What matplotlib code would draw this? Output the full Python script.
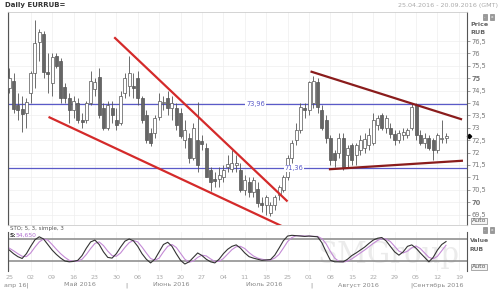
import numpy as np
import matplotlib.pyplot as plt
from matplotlib.ticker import FixedLocator

# daily EURRUB candles, 25.04.2016 .. mid Sep 2016
opens = [74.6, 74.9, 73.9, 73.75, 73.6, 74.4, 75.2, 76.45, 76.8, 75.25,
         74.8, 75.9, 75.7, 74.65, 74.2, 73.7, 74.0, 73.3, 73.3, 74.0,
         74.55, 75.05, 73.8, 73.0, 73.8, 73.3, 73.2, 74.4, 74.7, 74.7,
         75.0, 74.2, 73.5, 72.8, 72.8, 73.45, 74.0, 74.2, 73.8, 73.8,
         73.6, 72.5, 72.6, 71.8, 72.5, 72.45, 72.2, 71.3, 70.95, 70.95,
         71.0, 71.4, 71.35, 71.5, 71.3, 70.5, 70.8, 70.4, 70.55, 69.95,
         69.9, 69.55, 69.9, 70.3, 70.5, 71.0, 71.8, 72.5, 72.9, 73.8,
         73.7, 74.0, 74.85, 73.7, 73.3, 72.6, 72.0, 72.0, 72.6, 71.9,
         72.3, 71.9, 72.1, 72.2, 72.3, 72.4, 73.1, 73.5, 73.0, 73.0,
         72.75, 72.5, 72.7, 72.7, 73.0, 73.9, 72.7, 72.4, 72.6, 72.5,
         72.1, 72.55, 72.6]
highs = [75.4, 75.2, 74.4, 74.3, 74.2, 75.3, 77.35, 77.0, 76.9, 76.0,
         76.0, 76.0, 75.8, 74.8, 74.4, 74.3, 74.2, 73.6, 74.1, 75.3,
         75.0, 75.4, 74.0, 74.1, 74.1, 73.8, 74.5, 75.2, 75.9, 75.2,
         75.3, 74.3, 73.7, 73.0, 73.5, 74.4, 74.3, 74.5, 74.3, 74.0,
         73.8, 73.3, 72.8, 73.2, 74.05, 72.7, 72.4, 71.4, 71.2, 71.4,
         71.5, 71.9, 72.1, 71.9, 71.6, 71.1, 71.0, 71.0, 70.8, 70.2,
         70.3, 70.0, 70.3, 70.7, 71.1, 71.9, 72.5, 73.2, 74.0, 74.0,
         74.9, 75.1, 75.0, 73.9, 73.5, 72.7, 72.1, 72.8, 72.8, 72.3,
         72.4, 72.4, 72.7, 72.8, 73.0, 73.6, 73.5, 73.6, 73.5, 73.2,
         72.9, 72.9, 73.0, 73.0, 74.0, 74.0, 72.9, 72.8, 72.7, 72.6,
         72.8, 73.3, 72.8]
lows = [74.4, 73.6, 73.3, 72.85, 73.0, 74.0, 74.6, 75.7, 75.0, 74.4,
        74.3, 75.4, 74.0, 74.0, 73.2, 73.4, 73.2, 73.0, 73.2, 73.9,
        74.3, 73.4, 72.9, 72.9, 73.2, 72.9, 73.1, 74.2, 74.3, 74.2,
        73.9, 73.2, 72.4, 72.25, 72.6, 73.3, 73.7, 73.5, 73.3, 72.9,
        72.6, 72.2, 71.6, 71.7, 71.2, 72.1, 71.0, 70.45, 70.6, 70.6,
        70.8, 71.2, 71.2, 71.2, 70.4, 70.3, 70.2, 70.2, 69.8, 69.6,
        69.5, 69.45, 69.7, 70.1, 70.4, 70.9, 71.6, 72.3, 72.8, 73.4,
        73.5, 73.8, 73.6, 72.9, 72.4, 71.5, 71.4, 71.8, 71.3, 71.4,
        71.5, 71.5, 71.9, 72.0, 72.1, 72.3, 72.9, 72.9, 72.8, 72.6,
        72.3, 72.4, 72.5, 72.6, 72.9, 72.5, 72.3, 72.2, 72.1, 71.7,
        72.0, 72.4, 72.4]
closes = [75.0, 73.75, 73.7, 73.55, 74.05, 75.2, 76.4, 76.85, 75.25, 75.15,
          75.85, 75.5, 74.2, 74.2, 73.7, 74.1, 73.3, 73.25, 74.0, 74.9,
          74.85, 73.5, 73.0, 73.9, 73.5, 73.1, 74.3, 75.0, 75.2, 74.6,
          74.2, 73.3, 72.5, 72.4, 73.4, 74.1, 74.05, 73.8, 74.0, 73.1,
          72.65, 72.9, 71.8, 73.0, 71.5, 72.35, 71.0, 70.8, 70.85, 71.1,
          71.3, 71.55, 71.6, 71.6, 70.5, 70.9, 70.4, 70.9, 69.95, 69.9,
          70.2, 69.9, 70.2, 70.6, 71.0, 71.8, 72.4, 72.9, 73.85, 73.7,
          74.85, 74.9, 73.85, 73.0, 72.6, 71.7, 71.7, 72.6, 71.4, 72.2,
          71.7, 72.3, 72.5, 72.55, 72.7, 73.3, 73.4, 73.0, 73.4, 72.75,
          72.5, 72.8, 72.85, 72.9, 73.85, 72.7, 72.4, 72.6, 72.2, 72.1,
          72.7, 72.6, 72.65]

# stochastic %K and %D
stoch_k = [50, 40, 32, 27, 40, 60, 78, 86, 80, 65, 50, 38, 28, 20, 18, 19, 22, 35, 55, 72,
           77, 65, 45, 30, 28, 40, 58, 74, 80, 75, 60, 40, 25, 15, 25, 45, 65, 71, 60, 40,
           22, 12, 18, 30, 42, 35, 25, 18, 15, 25, 40, 52, 60, 64, 55, 42, 32, 28, 25, 22,
           23, 24, 36, 55, 75, 88, 90, 89, 88, 87, 88, 87, 86, 70, 45, 22, 18, 18, 18, 25,
           35, 42, 50, 58, 68, 77, 82, 84, 75, 60, 45, 36, 45, 60, 64, 55, 42, 30, 18, 30,
           50, 65, 73]
stoch_d = [55, 48, 40, 33, 32, 42, 58, 72, 80, 77, 65, 52, 40, 30, 22, 19, 20, 25, 38, 54,
           68, 72, 62, 47, 35, 33, 42, 57, 70, 76, 72, 58, 42, 27, 22, 28, 45, 60, 65, 57,
           41, 25, 17, 20, 30, 36, 34, 26, 19, 19, 27, 39, 51, 59, 60, 54, 43, 34, 28, 25,
           23, 23, 28, 38, 55, 73, 84, 89, 89, 88, 88, 87, 87, 81, 67, 46, 28, 19, 18, 20,
           26, 34, 42, 50, 59, 68, 76, 81, 80, 73, 60, 47, 42, 47, 56, 61, 54, 42, 30, 26,
           33, 48, 63]

levels = [73.96, 71.36]
level_labels = ["73,96", "71,36"]
level_label_x = [57.5, 66.5]

# trend lines: (index, price) pairs
wedge_upper = ([24.7, 64.8], [76.62, 70.06])
wedge_lower = ([9.4, 63.6], [73.42, 69.04])
tri_upper = ([70.6, 105.5], [75.26, 73.35])
tri_lower = ([74.9, 105.7], [71.33, 71.67])

week_labels = ["25", "02", "09", "16", "23", "30", "06", "13", "20", "27", "04",
               "11", "18", "25", "01", "08", "15", "22", "29", "05", "12", "19"]
months = ["апр 16|", "Май 2016", "Июнь 2016", "Июль 2016", "Август 2016", "Сентябрь 2016"]
month_x = [4, 64, 153, 246, 338, 413]
month_sep_x = [126, 311, 411]
price_ticks = [69.5, 70, 70.5, 71, 71.5, 72, 72.5, 73, 73.5, 74, 74.5, 75, 75.5, 76, 76.5]
last_price = 72.67

W, H = 500, 289
fig = plt.figure(figsize=(5, 2.89), dpi=100)
fig.patch.set_facecolor("white")

def px(x0, y0, x1, y1):
    return [x0 / W, 1 - y1 / H, (x1 - x0) / W, (y1 - y0) / H]

ax = fig.add_axes(px(8, 12, 467, 225))
ax2 = fig.add_axes(px(8, 232, 467, 271), sharex=ax)

n = len(closes)
idx = np.arange(n)
o = np.array(opens); c = np.array(closes)
up = c >= o
body_lo = np.minimum(o, c)
body_h = np.maximum(np.abs(c - o), 0.04)

ax.vlines(idx, lows, highs, color="#555555", lw=0.6, zorder=3)
ax.bar(idx[up], body_h[up], bottom=body_lo[up], width=0.7, color="white",
       edgecolor="#555555", linewidth=0.5, zorder=4)
ax.bar(idx[~up], body_h[~up], bottom=body_lo[~up], width=0.7, color="#666666",
       edgecolor="#555555", linewidth=0.5, zorder=4)

for lv, lab, lx in zip(levels, level_labels, level_label_x):
    ax.axhline(lv, color="#5a5ac8", lw=0.9, zorder=2)
    ax.text(lx, lv, lab, color="#5a5ac8", fontsize=4.8, ha="center", va="center",
            zorder=5, bbox=dict(facecolor="white", edgecolor="none", pad=0.6))

ax.plot(*wedge_upper, color="#d42a2a", lw=1.6, zorder=6)
ax.plot(*wedge_lower, color="#d42a2a", lw=1.6, zorder=6)
ax.plot(*tri_upper, color="#8a1c1c", lw=1.6, zorder=6)
ax.plot(*tri_lower, color="#8a1c1c", lw=1.6, zorder=6)

ax.set_xlim(-0.3, 106.9)
ax.set_ylim(69.08, 77.67)
ax.yaxis.tick_right()
ax.set_yticks(price_ticks)
ax.set_yticklabels([("%g" % p).replace(".", ",") for p in price_ticks])
for t, p in zip(ax.get_yticklabels(), price_ticks):
    if p in (70, 75):
        t.set_fontweight("bold")
ax.tick_params(axis="y", labelsize=4.8, colors="#777777", length=2, width=0.5, pad=1)
ax.tick_params(axis="x", bottom=False, labelbottom=False)
ax.xaxis.set_major_locator(FixedLocator(np.arange(0, 110, 5)))
ax.grid(True, color="#eeeeee", lw=0.5, zorder=0)
for s in ["left", "right"]:
    ax.spines[s].set_color("#555555")
    ax.spines[s].set_linewidth(0.8)
for s in ["top", "bottom"]:
    ax.spines[s].set_color("#cccccc")
    ax.spines[s].set_linewidth(0.6)
ax.plot([1.005], [last_price], marker="D", color="black", ms=2.2,
        transform=ax.get_yaxis_transform(), clip_on=False)

# stochastic panel
ax2.axhline(80, color="#888888", lw=1.1)
ax2.axhline(20, color="#888888", lw=1.1)
ax2.plot(idx, stoch_d, color="#c48ad6", lw=0.8)
ax2.plot(idx, stoch_k, color="#333333", lw=0.8)
ax2.set_ylim(-7, 99)
ax2.set_yticks([])
ax2.set_xticks(np.arange(0, 110, 5))
ax2.set_xticklabels(week_labels)
ax2.tick_params(axis="x", labelsize=4.6, colors="#aaaaaa", length=0, pad=3)
ax2.grid(True, axis="x", color="#eeeeee", lw=0.5)
ax2.spines["top"].set_visible(False)
ax2.spines["bottom"].set_visible(False)
for s in ["left", "right"]:
    ax2.spines[s].set_color("#555555")
    ax2.spines[s].set_linewidth(0.8)
ax2.text(0.83, 0.4, "SMGroup", transform=ax2.transAxes, fontsize=21, color="#ebebeb",
         ha="center", va="center", family="DejaVu Serif", zorder=0, clip_on=True)

# header texts
fig.text(5 / W, 1 - 5 / H, "Daily EURRUB=", fontsize=5, fontweight="bold", color="#333333",
         va="center")
fig.text(498 / W, 1 - 5 / H, "25.04.2016 - 20.09.2016 (GMT)", fontsize=4.6, color="#aaaaaa",
         va="center", ha="right")
fig.text(10 / W, 1 - 228.5 / H, "STO; 5, 3, simple, 3", fontsize=4, color="#555555", va="center")
fig.text(10 / W, 1 - 235.5 / H, "S:", fontsize=4.3, color="#333333", va="center", fontweight="bold")
fig.text(16 / W, 1 - 235.5 / H, "54,650", fontsize=4.3, color="#b070d0", va="center")

for lab, y in [("Price", 25), ("RUB", 33)]:
    fig.text(470 / W, 1 - y / H, lab, fontsize=4.6, fontweight="bold", color="#666666", va="center")
for lab, y in [("Value", 240.5), ("RUB", 249.5)]:
    fig.text(470 / W, 1 - y / H, lab, fontsize=4.4, fontweight="bold", color="#666666", va="center")
for y in [221, 267]:
    fig.text(472 / W, 1 - y / H, "Auto", fontsize=4.4, color="#555555", va="center",
             bbox=dict(facecolor="#f4f4f4", edgecolor="#888888", lw=0.5, pad=0.6))
for y in [17, 230]:
    for x in [485, 492]:
        fig.text(x / W, 1 - y / H, "x" if x == 492 else "-", fontsize=3.2, color="white",
                 ha="center", va="center",
                 bbox=dict(facecolor="#999999", edgecolor="#777777", lw=0.4, pad=0.5))

for lab, x in zip(months, month_x):
    fig.text(x / W, 1 - 285 / H, lab, fontsize=4.6, color="#888888", va="center")
for x in month_sep_x:
    fig.text(x / W, 1 - 285 / H, "|", fontsize=4.6, color="#888888", va="center", ha="center")

fig.savefig("out.png", dpi=100)
